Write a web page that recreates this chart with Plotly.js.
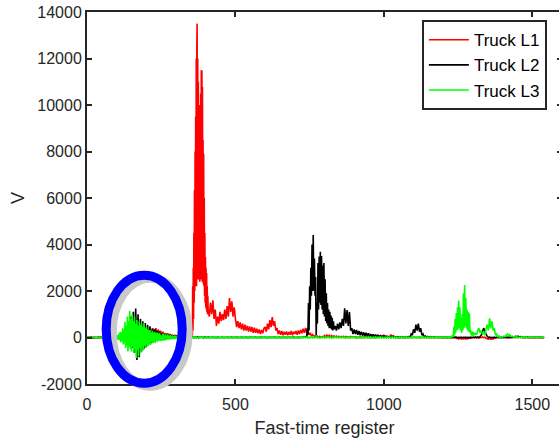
<!DOCTYPE html>
<html>
<head>
<meta charset="utf-8">
<script src="https://cdn.plot.ly/plotly-3.0.1.min.js"></script>
<style>
html,body{margin:0;padding:0;overflow:hidden;background:#fff;}
#chart{width:562px;height:441px;}
</style>
</head>
<body>
<div id="chart"></div>
<script>
// Coarse sampling of the fast-time register (one value every 4 registers, starting at 0)
var sampleStart = 0;
var sampleStep = 4;

var seriesNames = ["Truck L1", "Truck L2", "Truck L3"];

// Truck L1 (red), coarse
var truckL1 = [
  10,-10,15,-5,20,-15,10,0,-10,15,-20,10,5,-15,20,-10,10,-5,15,-20,10,5,-10,20,-15,
  20,-40,60,-80,100,-150,180,-200,220,-250,260,-220,240,-200,260,-180,220,-150,200,-160,180,-120,160,-100,140,
  150,-100,200,-80,300,-60,380,-50,400,-40,350,-30,300,-20,250,-20,200,-10,180,-10,150,0,120,0,100,
  80,10,70,10,60,20,50,10,60,20,50,30,80,150,2200,600,8500,2500,13500,3000,10000,3500,11500,3000,7000,
  3400,1500,2000,900,1500,1000,1600,800,1200,500,900,600,1100,700,1000,750,1200,800,1350,900,1700,1100,1550,900,1300,
  800,450,700,400,650,350,600,300,550,300,500,250,480,250,450,200,420,200,380,180,350,150,320,180,400,
  450,250,600,350,750,450,880,500,700,300,400,150,300,120,280,100,250,120,260,100,240,120,280,100,250,
  150,280,120,300,150,320,180,380,200,410,200,300,120,200,60,120,30,80,20,60,10,50,0,40,10,
  80,20,100,30,90,20,80,10,70,20,60,10,50,0,40,10,50,0,40,10,30,0,40,10,30,
  0,30,-10,20,0,30,-10,20,0,40,10,30,0,20,-10,30,0,20,-10,30,0,40,10,60,20,
  100,20,60,10,40,20,120,30,80,10,30,0,20,-10,20,0,10,-10,20,0,10,-10,20,0,10,
  0,20,-10,10,0,20,-10,10,0,15,-10,10,0,20,-10,10,0,20,-10,10,0,15,-10,10,0,
  10,-10,20,-20,10,-10,15,-20,10,-10,20,-30,-40,-60,-30,-70,-40,-60,-30,-70,-40,-50,-20,-30,0,
  10,-10,20,-10,10,-20,10,-10,20,-10,10,-30,-50,-70,-40,-80,-50,-60,-30,-20,0,10,-10,20,-10,
  10,-10,15,-10,10,-5,10,-10,15,-10,10,-5,10,-10,15,-10,10,-5,10,-10,15,-10,10,-5,10,
  -10,10,-5,10,-10,15,-10,10,-5,10,0
];
// Truck L1 detail around the main peak: registers 352..408, every register
var truckL1PeakStart = 352;
var truckL1PeakStep = 1;
var truckL1Peak = [
  150,50,600,100,2200,300,3000,800,4500,1500,6340,2000,8000,2200,9500,2500,12000,2200,12500,13500,
  2500,12000,2800,11000,2500,10000,2600,9900,2400,10000,2600,10500,2500,11500,2700,11500,2400,10770,2500,8500,
  2300,7900,2200,6000,1800,4500,1500,3460,1300,3000,1200,2770,1100,2200,1000,1800,1200
];

// Truck L2 (black), coarse
var truckL2 = [
  -10,10,-5,15,-10,5,-15,10,0,-10,15,-5,10,-15,5,10,-10,15,-5,10,-20,20,-30,30,-40,
  40,-50,80,-80,150,-120,250,-150,350,-200,550,-300,900,-450,1110,-650,1250,-970,1000,-850,800,-600,700,-480,620,
  -400,550,-300,480,-250,400,-200,350,-160,300,-110,260,-100,200,-90,170,-80,150,-60,130,-50,110,-40,90,-30,
  80,-30,60,-20,50,-20,40,-10,30,-10,40,-10,30,0,30,-10,20,0,30,-10,20,0,20,-10,20,
  10,-10,20,-10,10,0,15,-10,10,-5,20,-10,10,0,15,-10,10,-5,20,-10,10,0,15,-10,10,
  0,15,-10,10,-5,20,-10,10,0,15,-10,10,-5,20,-10,10,0,15,-10,10,-5,20,-10,10,0,
  15,-10,10,-5,20,-10,10,0,15,-10,10,-5,20,-10,10,0,15,-10,10,-5,20,-10,10,0,15,
  -10,10,-5,15,-10,10,0,20,10,40,100,1200,600,2560,1800,4410,2000,2900,200,1500,3480,2200,3690,2000,3200,
  1800,2190,900,1300,700,1000,500,800,350,500,300,600,350,650,400,800,500,1255,600,1180,500,1100,300,400,150,
  350,150,320,120,280,100,250,80,220,70,200,60,180,50,150,40,130,30,120,20,100,10,80,10,70,
  10,60,0,50,0,40,-10,40,0,30,-10,30,0,20,-10,30,0,20,-10,30,0,40,20,150,100,
  350,200,550,300,600,250,400,100,150,20,60,0,40,-10,30,0,20,-10,20,0,10,-10,20,0,10,
  -10,10,0,15,-10,10,-5,15,-10,10,0,15,-10,10,-5,15,-10,10,0,15,-10,10,-5,15,-10,
  10,-10,15,-10,20,0,40,100,250,400,300,150,50,0,20,-10,10,-10,15,-10,10,0,15,-10,10,
  0,15,-10,10,-5,15,-10,10,0,15,30,50,30,60,20,40,10,15,-10,10,0,15,-10,10,-5,
  10,-10,15,-5,10,-10,15,-5,10,-10,0
];
// Truck L2 detail around its main peaks: registers 740..830, every 2 registers
var truckL2PeakStart = 740;
var truckL2PeakStep = 2;
var truckL2Peak = [
  20,400,100,1480,300,2200,1200,3000,1800,4000,2000,4410,2000,3400,1800,2600,100,1500,600,3200,
  1200,3480,1500,3690,1400,3500,1200,3100,1000,3200,900,2500,700,1900,600,1480,500,1200,400,1110,
  400,950,350,850,300,700
];

// Truck L3 (green), coarse
var truckL3 = [
  0,15,-10,20,-15,10,-5,20,-10,15,-20,10,0,-15,20,-10,15,-20,25,-30,40,-50,60,-80,100,
  -100,150,-150,250,-250,400,-300,550,-400,700,-500,1180,-600,1100,-650,1000,-750,900,-800,800,-750,700,-600,620,-450,
  550,-400,450,-320,320,-300,300,-240,260,-200,220,-160,190,-150,170,-130,150,-110,130,-90,100,-80,90,-70,80,
  -60,60,-50,50,-40,40,-40,40,-30,30,-30,30,-30,30,-20,30,-20,20,-20,30,-20,20,-20,30,-20,
  -20,20,-30,30,-20,20,-10,30,-20,20,-30,20,-20,30,-10,20,-20,30,-20,20,-10,20,-30,20,-20,
  30,-20,20,-10,30,-20,20,-30,20,-20,30,-10,20,-20,30,-20,20,-10,20,-30,20,-20,30,-20,20,
  -10,20,-30,20,-20,30,-10,20,-20,30,-20,20,-10,20,-30,20,-20,30,-20,20,-10,30,-20,20,-30,
  20,-20,30,-10,20,-20,30,-20,20,-10,20,-30,20,-20,30,-20,20,-10,30,-20,20,-30,20,-20,30,
  -20,20,-10,30,-20,20,-30,20,-20,30,-10,20,-20,30,-20,20,-10,20,-30,20,-20,30,-20,20,-10,
  30,-20,20,-30,20,-20,30,-10,20,-20,30,-20,20,-10,20,-30,20,-20,30,-20,20,-10,30,-20,20,
  -30,20,-20,30,-10,20,-20,30,-20,20,-10,20,-30,20,-20,30,-20,20,-10,30,-20,20,-30,20,-20,
  20,-10,30,-20,20,-30,20,-20,30,-10,20,-20,30,-20,20,-10,20,-30,20,-20,30,-20,20,-10,30,
  20,-20,30,-10,20,-20,40,0,120,465,250,1100,500,1580,600,1300,750,1700,2260,900,1500,600,1040,320,150,
  250,100,200,120,300,400,200,300,150,200,100,350,550,300,825,400,700,300,400,100,150,30,60,0,40,
  20,60,30,100,150,80,120,40,60,20,40,0,30,-10,20,0,30,-10,20,0,20,-10,20,0,20,
  -10,20,0,20,-10,15,0,20,-10,10,0
];
// Truck L3 detail of the early burst: registers 100..250, every 2 registers
var truckL3BurstStart = 100;
var truckL3BurstStep = 2;
var truckL3Burst = [
  60,-40,100,-90,180,-120,250,-200,200,-150,400,-300,350,-250,680,-450,500,-350,900,-600,
  700,-400,1150,-500,800,-610,1000,-400,700,-650,900,-500,600,-880,750,-550,500,-800,700,-450,
  550,-650,620,-400,450,-550,600,-350,400,-450,450,-300,350,-380,300,-250,320,-320,220,-200,
  290,-250,200,-180,250,-240,180,-150,220,-180,150,-120,200,-150,130,-100
];
// Truck L3 detail around its main peaks: registers 1232..1300, every 2 registers
var truckL3PeakStart = 1232;
var truckL3PeakStep = 2;
var truckL3Peak = [
  120,20,465,100,800,200,1050,300,1300,350,1580,400,1300,300,850,200,1000,300,1900,400,
  2260,500,1700,400,1200,300,1100,250,1040,200,320,100,250,50,250
];

var xTicks = [0, 500, 1000, 1500];
var yTicks = [-2000, 0, 2000, 4000, 6000, 8000, 10000, 12000, 14000];

var colors = ["#FF0000", "#000000", "#00FF00"];

// Merge a coarse series with detailed segments (each segment replaces coarse samples in its span)
function mergeSeries(coarse, cStart, cStep, segments) {
  var pts = [];
  coarse.forEach(function (v, i) {
    var x = cStart + cStep * i;
    var covered = segments.some(function (s) {
      return x >= s.start && x <= s.start + s.step * (s.values.length - 1);
    });
    if (!covered) pts.push([x, v]);
  });
  segments.forEach(function (s) {
    s.values.forEach(function (v, i) { pts.push([s.start + s.step * i, v]); });
  });
  pts.sort(function (a, b) { return a[0] - b[0]; });
  return { x: pts.map(function (p) { return p[0]; }), y: pts.map(function (p) { return p[1]; }) };
}

var merged = [
  mergeSeries(truckL1, sampleStart, sampleStep, [
    { start: truckL1PeakStart, step: truckL1PeakStep, values: truckL1Peak }
  ]),
  mergeSeries(truckL2, sampleStart, sampleStep, [
    { start: truckL2PeakStart, step: truckL2PeakStep, values: truckL2Peak }
  ]),
  mergeSeries(truckL3, sampleStart, sampleStep, [
    { start: truckL3BurstStart, step: truckL3BurstStep, values: truckL3Burst },
    { start: truckL3PeakStart, step: truckL3PeakStep, values: truckL3Peak }
  ])
];

var traces = merged.map(function (s, k) {
  return {
    type: "scatter",
    mode: "lines",
    name: seriesNames[k],
    x: s.x,
    y: s.y,
    line: { color: colors[k], width: 1.6, simplify: false },
    hoverinfo: "skip"
  };
});

var axisColor = "#262626";
var fontFam = "Liberation Sans, Arial, Helvetica, sans-serif";

var commonAxis = {
  showline: true,
  linecolor: axisColor,
  linewidth: 2,
  mirror: "ticks",
  ticks: "inside",
  ticklen: 5,
  tickwidth: 2,
  tickcolor: axisColor,
  showgrid: false,
  zeroline: false,
  tickfont: { family: fontFam, size: 16, color: axisColor }
};

var layout = {
  width: 562,
  height: 441,
  margin: { l: 87, r: 0, t: 12, b: 57 },
  paper_bgcolor: "#ffffff",
  plot_bgcolor: "#ffffff",
  showlegend: true,
  xaxis: Object.assign({}, commonAxis, {
    range: [0, 1600],
    tickvals: xTicks,
    ticktext: xTicks.map(String),
    ticklabelstandoff: 5,
    title: { text: "Fast-time register", font: { family: fontFam, size: 18, color: axisColor }, standoff: 9 }
  }),
  yaxis: Object.assign({}, commonAxis, {
    range: [-2000, 14000],
    tickvals: yTicks,
    ticktext: yTicks.map(String),
    title: { text: "V", font: { family: fontFam, size: 18, color: axisColor }, standoff: 8 }
  }),
  legend: {
    x: 0.705, y: 0.978, xanchor: "left", yanchor: "top",
    bgcolor: "#ffffff", bordercolor: axisColor, borderwidth: 2,
    font: { family: fontFam, size: 17, color: "#000000" },
    itemwidth: 40,
    tracegroupgap: 0
  },
  shapes: [
    { type: "circle", xref: "paper", yref: "paper", layer: "above",
      x0: 0.0531, x1: 0.2131, y0: -0.0059, y1: 0.2844,
      line: { color: "#c8c8c8", width: 9 } },
    { type: "circle", xref: "paper", yref: "paper", layer: "above",
      x0: 0.0404, x1: 0.2004, y0: 0.0022, y1: 0.2925,
      line: { color: "#0000FF", width: 9 } }
  ]
};

Plotly.newPlot("chart", traces, layout, { displayModeBar: false, staticPlot: true });
</script>
</body>
</html>
